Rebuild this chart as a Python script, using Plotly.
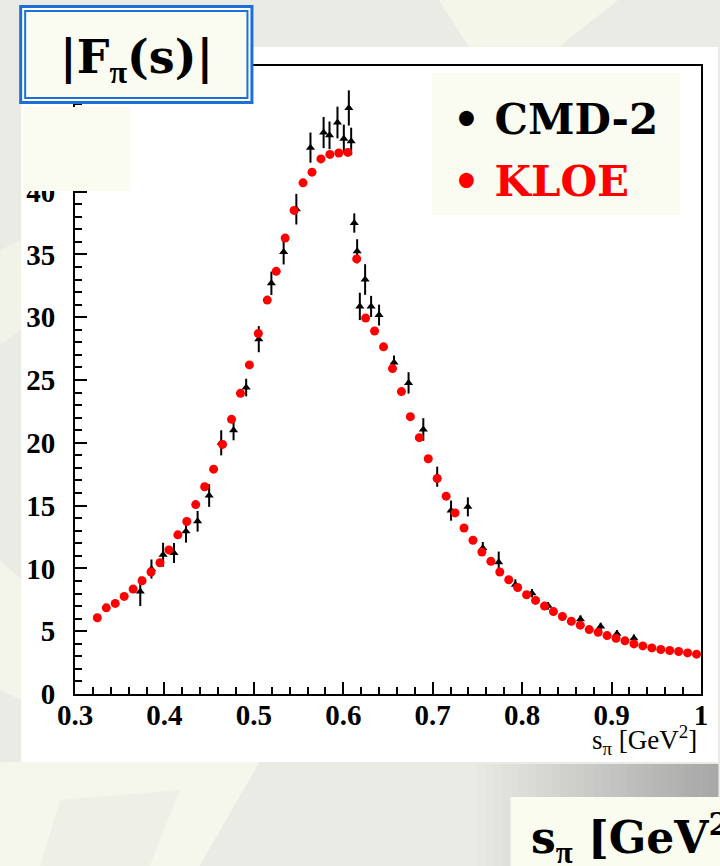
import plotly.graph_objects as go

# ---------------- data ----------------
kloe_s = [0.325, 0.335, 0.345, 0.355, 0.365, 0.375, 0.385, 0.395, 0.405, 0.415,
          0.425, 0.435, 0.445, 0.455, 0.465, 0.475, 0.485, 0.495, 0.505, 0.515,
          0.525, 0.535, 0.545, 0.555, 0.565, 0.575, 0.585, 0.595, 0.605, 0.615,
          0.625, 0.635, 0.645, 0.655, 0.665, 0.675, 0.685, 0.695, 0.705, 0.715,
          0.725, 0.735, 0.745, 0.755, 0.765, 0.775, 0.785, 0.795, 0.805, 0.815,
          0.825, 0.835, 0.845, 0.855, 0.865, 0.875, 0.885, 0.895, 0.905, 0.915,
          0.925, 0.935, 0.945, 0.955, 0.965, 0.975, 0.985, 0.995]
kloe_f = [6.07, 6.86, 7.21, 7.77, 8.35, 9.02, 9.71, 10.45, 11.47, 12.67,
          13.73, 15.08, 16.5, 17.9, 19.87, 21.87, 23.94, 26.2, 28.7, 31.36,
          33.65, 36.3, 38.5, 40.7, 41.55, 42.6, 42.96, 43.07, 43.12, 34.64,
          29.93, 28.9, 27.64, 25.91, 24.08, 22.08, 20.41, 18.73, 17.16, 15.75,
          14.42, 13.22, 12.24, 11.31, 10.56, 9.71, 9.1, 8.48, 7.9, 7.45,
          7.0, 6.56, 6.17, 5.79, 5.48, 5.13, 4.92, 4.65, 4.44, 4.23,
          3.99, 3.83, 3.67, 3.54, 3.46, 3.38, 3.27, 3.17]

cmd2_s = [0.373, 0.3855, 0.3985, 0.4107, 0.4241, 0.4371, 0.450, 0.4635, 0.4773, 0.4914,
          0.5055, 0.5196, 0.5333, 0.5475, 0.5633, 0.578, 0.5846, 0.5935, 0.6006, 0.6062,
          0.6088, 0.6123, 0.6155, 0.6185, 0.6244, 0.6311, 0.640, 0.6567, 0.6730, 0.6895,
          0.705, 0.7205, 0.7393, 0.756, 0.7738, 0.7924, 0.811, 0.829, 0.8652, 0.8878,
          0.906, 0.925]
cmd2_f = [8.17, 9.95, 11.09, 11.23, 12.95, 13.75, 15.8, 20.0, 21.0, 24.4,
          28.25, 32.7, 35.2, 38.6, 43.5, 44.7, 44.48, 45.5, 44.2, 46.66,
          44.0, 37.5, 35.25, 30.86, 33.0, 30.86, 30.17, 26.39, 24.77, 21.06,
          17.3, 14.6, 14.9, 11.63, 10.48, 8.7, 8.03, 7.02, 5.96, 5.37,
          4.79, 4.44]
cmd2_err = [1.17, 0.76, 0.95, 0.8, 0.9, 0.82, 0.9, 1.0, 0.8, 0.7,
            1.04, 0.93, 1.0, 1.22, 1.2, 1.24, 1.1, 1.26, 1.13, 1.4,
            1.09, 0.77, 0.96, 1.09, 1.22, 0.84, 0.83, 0.56, 0.85, 0.9,
            0.8, 0.8, 0.76, 0.47, 0.86, 0.43, 0.33, 0.3, 0.3, 0.3,
            0.3, 0.3]

x_ticks = [0.3, 0.4, 0.5, 0.6, 0.7, 0.8, 0.9, 1.0]
x_ticklabels = ["0.3", "0.4", "0.5", "0.6", "0.7", "0.8", "0.9", "1"]
y_ticks = [0, 5, 10, 15, 20, 25, 30, 35, 40, 45, 50]

# ---------------- layout geometry (pixels) ----------------
FW, FH = 720, 866
L, R, T, B = 75, 703, 66, 694
PW, PH = R - L, B - T


def px(x):
    return (x - L) / PW


def py(y):
    return (B - y) / PH


def rect(x0, y0, x1, y1, fill, line=None, lw=0, layer="above"):
    return dict(type="rect", xref="paper", yref="paper",
                x0=px(x0), x1=px(x1), y0=py(y1), y1=py(y0),
                fillcolor=fill, line=dict(color=line or fill, width=lw),
                layer=layer)


def poly(points, fill, layer="below"):
    d = "M " + " L ".join(f"{px(a)},{py(b)}" for a, b in points) + " Z"
    return dict(type="path", xref="paper", yref="paper", path=d,
                fillcolor=fill, line=dict(width=0), layer=layer)


PI = '<span style="font-family:Liberation Serif">π</span>'

fig = go.Figure()

fig.add_trace(go.Scatter(
    x=cmd2_s, y=cmd2_f, mode="markers", name="CMD-2",
    marker=dict(symbol="triangle-up", size=8, color="black"),
    error_y=dict(type="data", array=cmd2_err, width=0, thickness=2, color="black"),
))
fig.add_trace(go.Scatter(
    x=kloe_s, y=kloe_f, mode="markers", name="KLOE",
    marker=dict(symbol="circle", size=9, color="#FF0000", line=dict(width=0)),
))

shapes = []
# slide background decorations
shapes.append(poly([(0, 0), (720, 0), (720, 866), (0, 866)], "#EAEBE5"))
shapes.append(poly([(440, 0), (620, 0), (560, 47), (470, 47)], "#F5F6EA"))
shapes.append(poly([(0, 250), (21, 240), (21, 330), (0, 345)], "#F1F2E8"))
shapes.append(poly([(0, 560), (21, 580), (21, 700), (0, 690)], "#F4F5EA"))
shapes.append(poly([(0, 762), (260, 762), (200, 866), (0, 866)], "#F6F7EC"))
shapes.append(poly([(60, 800), (180, 790), (150, 866), (40, 866)], "#EEEFE6"))
# white plot canvas
shapes.append(rect(21, 47, 720, 762, "white", layer="below"))
# gradient band bottom right
n = 30
x_start, x_end = 470, 720
c0 = (0xEA, 0xEB, 0xE5)
c1 = (0xA8, 0xA8, 0xA8)
for i in range(n):
    t = i / (n - 1)
    c = tuple(int(c0[k] + (c1[k] - c0[k]) * t) for k in range(3))
    xa = x_start + (x_end - x_start) * i / n
    xb = x_start + (x_end - x_start) * (i + 1) / n + 0.5
    shapes.append(rect(xa, 764, xb, 866, "rgb(%d,%d,%d)" % c, layer="below"))
shapes.append(rect(512, 797, 722, 868, "#FBFCF0", layer="above"))
# cream rectangle covering upper y labels
shapes.append(rect(23, 107, 130, 191, "#FBFCF1", layer="above"))
# legend box
shapes.append(rect(433, 73, 682, 215, "#FBFCF1", layer="above"))
# title box with double blue border
shapes.append(rect(19, 5, 254, 104, "#1C6FD6", layer="above"))
shapes.append(rect(22, 8, 251, 101, "white", layer="above"))
shapes.append(rect(24, 10, 249, 99, "#1C6FD6", layer="above"))
shapes.append(rect(26, 12, 247, 97, "#FBFCF1", layer="above"))

annotations = [
    dict(text="<b>|F<sub>" + PI + "</sub>(s)|</b>", x=px(137), y=py(60), xref="paper", yref="paper",
         showarrow=False, xanchor="center", yanchor="middle",
         font=dict(family="DejaVu Serif", size=46, color="black")),
    dict(text="<b>• CMD-2</b>", x=px(452), y=py(119), xref="paper", yref="paper",
         showarrow=False, xanchor="left", yanchor="middle",
         font=dict(family="DejaVu Serif", size=42, color="black")),
    dict(text="<b>• KLOE</b>", x=px(452), y=py(181), xref="paper", yref="paper",
         showarrow=False, xanchor="left", yanchor="middle",
         font=dict(family="DejaVu Serif", size=42, color="#FF0000")),
    dict(text="s<sub>π</sub> [GeV<sup>2</sup>]", x=px(701), y=py(740), xref="paper", yref="paper",
         showarrow=False, xanchor="right", yanchor="middle",
         font=dict(family="Liberation Serif", size=27, color="black")),
    dict(text="<b>s<sub>" + PI + "</sub> [GeV<sup>2</sup>]</b>", x=px(530), y=py(838), xref="paper", yref="paper",
         showarrow=False, xanchor="left", yanchor="middle",
         font=dict(family="DejaVu Serif", size=44, color="black")),
]

fig.update_layout(
    width=FW, height=FH, autosize=False,
    margin=dict(l=L, r=FW - R, t=T, b=FH - B, pad=0),
    paper_bgcolor="#EAEBE5", plot_bgcolor="white",
    showlegend=False,
    shapes=shapes, annotations=annotations,
)
axis_common = dict(
    showgrid=False, zeroline=False, showline=True, linecolor="black", linewidth=2,
    mirror=True, ticks="inside", ticklen=12, tickwidth=2, tickcolor="black",
    tickfont=dict(family="Liberation Serif", size=29, color="black", weight="bold"),
)
fig.update_xaxes(range=[0.3, 1.0], tickvals=x_ticks, ticktext=x_ticklabels,
                 minor=dict(dtick=0.02, tick0=0.3, ticks="inside", ticklen=7, tickwidth=2, tickcolor="black"),
                 ticklabelstandoff=-6, **axis_common)
fig.update_yaxes(range=[0, 50], tickvals=y_ticks,
                 minor=dict(dtick=1, tick0=0, ticks="inside", ticklen=7, tickwidth=2, tickcolor="black"),
                 ticklabelstandoff=12, **axis_common)

fig.write_html("out.html")
